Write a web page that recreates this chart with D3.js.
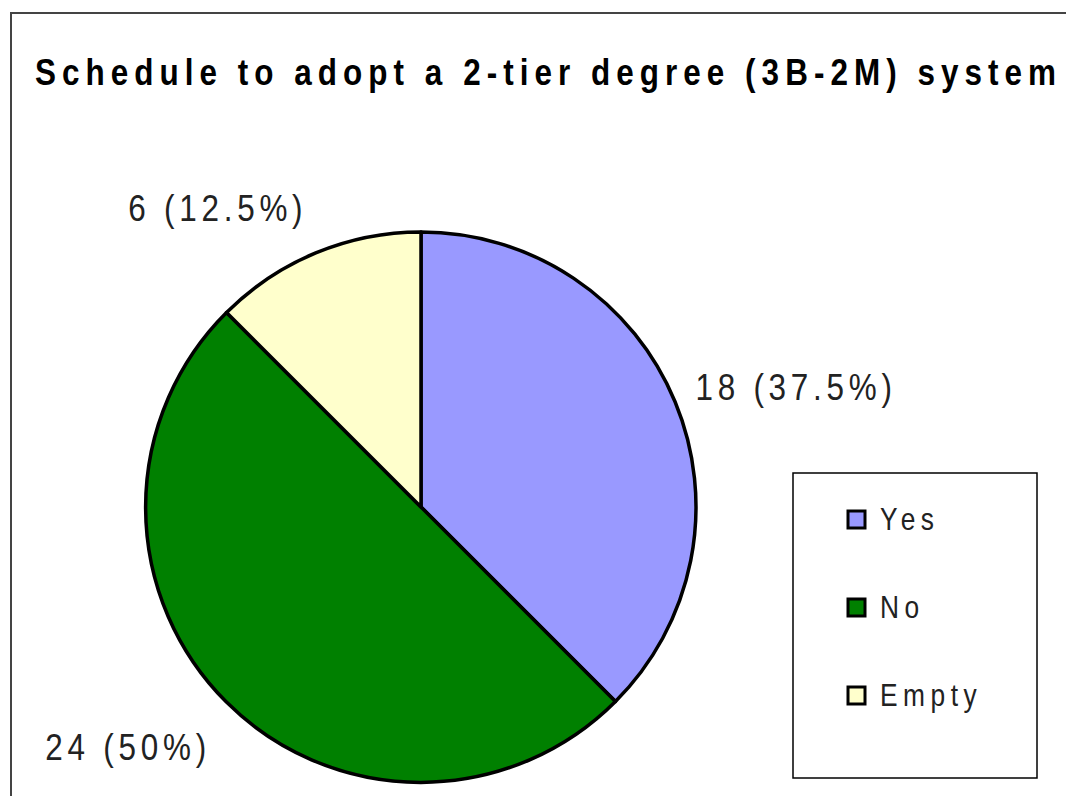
<!DOCTYPE html>
<html>
<head>
<meta charset="utf-8">
<script src="https://cdn.jsdelivr.net/npm/d3@7"></script>
<style>
  body { margin: 0; background: #fff; }
  svg { display: block; font-family: "Liberation Sans", Arial, sans-serif; }
</style>
</head>
<body>
<div id="chart"></div>
<script>

var title = "Schedule to adopt a 2-tier degree (3B-2M) system";
var categories = ["Yes", "No", "Empty"];
var values = [18, 24, 6];
var colors = ["#9999ff", "#008000", "#ffffcc"];

var width = 1066;
var height = 796;
var squeeze = 0.85; // the old chart font is tall and narrow

var svg = d3.select('#chart').append('svg')
  .attr('width', width)
  .attr('height', height);

// outer chart frame (runs off the right and bottom edge)
svg.append('rect')
  .attr('x', 11).attr('y', 13)
  .attr('width', 1200).attr('height', 900)
  .style('fill', 'none')
  .style('stroke', '#444')
  .style('stroke-width', 2);

svg.append('g')
  .attr('transform', 'translate(35,85) scale(' + squeeze + ',1)')
  .append('text')
  .style('font-size', '37px')
  .style('font-weight', 'bold')
  .style('letter-spacing', '7.1px')
  .style('fill', '#000')
  .text(title);

// Crunch the numbers
var cx = 421;
var cy = 507;
var r = 275;
var total = d3.sum(values);

var pie = d3.pie().sort(null).value(function(d) { return d.value; });
var data = pie(categories.map(function(c, i) {
  return { name: c, value: values[i], color: colors[i] };
}));

var arc = d3.arc().innerRadius(0).outerRadius(r);

var g = svg.append('g').attr('transform', 'translate(' + cx + ',' + cy + ')');

g.selectAll('path').data(data).enter().append('path')
  .attr('d', arc)
  .style('fill', function(d) { return d.data.color; })
  .style('stroke', '#000')
  .style('stroke-width', 3.5)
  .style('stroke-linejoin', 'round');

// labels sit just outside the rim, pushed away from the pie
var labelR = r + 22;
var lineH = 34;
var mid = function(d) { return (d.startAngle + d.endAngle) / 2; };

g.selectAll('g.lbl').data(data).enter().append('g')
  .attr('class', 'lbl')
  .attr('transform', function(d) {
    var a = mid(d);
    var x = Math.sin(a) * labelR;
    var y = -Math.cos(a) * labelR - Math.cos(a) * lineH + 6;
    return 'translate(' + x + ',' + y + ') scale(' + squeeze + ',1)';
  })
  .append('text')
  .attr('dy', '0.36em')
  .attr('text-anchor', function(d) { return Math.sin(mid(d)) > 0 ? 'start' : 'end'; })
  .style('font-size', '37px')
  .style('letter-spacing', '5.6px')
  .style('fill', '#222')
  .text(function(d) {
    var pct = d3.format('.1~f')(d.value / total * 100);
    return d.value + ' (' + pct + '%)';
  });

// legend
var legend = svg.append('g');
legend.append('rect')
  .attr('x', 793).attr('y', 473)
  .attr('width', 244).attr('height', 305)
  .style('fill', '#fff')
  .style('stroke', '#000')
  .style('stroke-width', 1.5);

var ly = d3.scalePoint().domain(categories).range([519, 695]);

var items = legend.selectAll('g.item').data(data).enter().append('g')
  .attr('class', 'item')
  .attr('transform', function(d) { return 'translate(848,' + ly(d.data.name) + ')'; });

items.append('rect')
  .attr('x', 0).attr('y', -8)
  .attr('width', 17).attr('height', 17)
  .style('fill', function(d) { return d.data.color; })
  .style('stroke', '#000')
  .style('stroke-width', 3);

items.append('g')
  .attr('transform', 'translate(32,0) scale(' + squeeze + ',1)')
  .append('text')
  .attr('dy', '0.36em')
  .style('font-size', '31px')
  .style('letter-spacing', '6.5px')
  .style('fill', '#222')
  .text(function(d) { return d.data.name; });

</script>
</body>
</html>
